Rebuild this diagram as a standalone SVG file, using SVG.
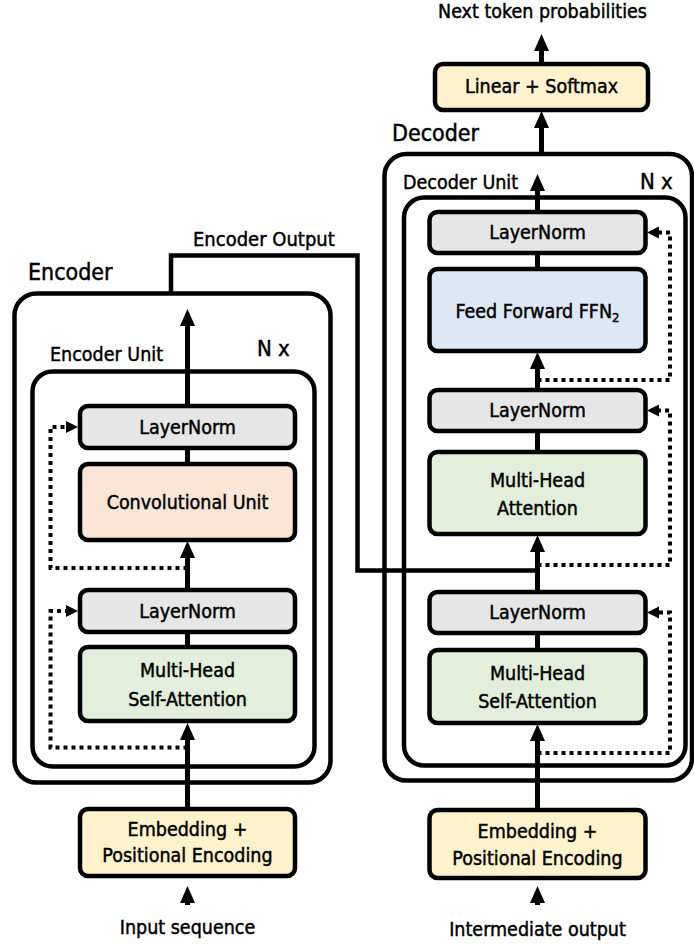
<svg xmlns="http://www.w3.org/2000/svg" width="694" height="945" viewBox="0 0 694 945">
<defs>
<style>
text{font-family:"DejaVu Sans Condensed","DejaVu Sans",sans-serif;font-stretch:condensed;font-size:19.5px;fill:#000;stroke:#000;stroke-width:0.45px}
.c{text-anchor:middle}
.t{font-size:23px}
.nx{font-size:22px}
.box{stroke:#000;stroke-width:4.5}
.cont{fill:none;stroke:#000;stroke-width:4.5}
.ln{fill:#e7e6e6}
.conv{fill:#fbe5d6}
.att{fill:#e2efda}
.emb{fill:#fff2cc}
.ffn{fill:#dce8f5}
.a{fill:none;stroke:#000;stroke-width:5}
.ar{marker-end:url(#arr)}
.d{fill:none;stroke:#000;stroke-width:4;stroke-dasharray:4 4;marker-end:url(#darr)}
.eo{fill:none;stroke:#000;stroke-width:4.5}
</style>
<marker id="arr" markerUnits="userSpaceOnUse" markerWidth="18" markerHeight="16" refX="10" refY="7.5" orient="auto" overflow="visible">
<path d="M0,0 L17,7.5 L0,15 Z" fill="#000"/>
</marker>
<marker id="darr" markerUnits="userSpaceOnUse" markerWidth="12" markerHeight="12" refX="8" refY="6" orient="auto" overflow="visible">
<path d="M0,0 L12,6 L0,12 Z" fill="#000"/>
</marker>
</defs>
<rect width="694" height="945" fill="#fff"/>

<g id="encoder">
<rect class="cont" x="14.5" y="293.5" width="316" height="489" rx="22"/>
<text class="t" x="28" y="280">Encoder</text>
</g>
<g id="encoder-unit">
<rect class="cont" x="32.5" y="371.5" width="282" height="395" rx="20"/>
<text x="50" y="361">Encoder Unit</text>
<text class="nx" x="257" y="356">N x</text>
</g>
<g id="decoder">
<rect class="cont" x="384.5" y="154" width="307.5" height="626.5" rx="22"/>
<text class="t" x="392" y="141">Decoder</text>
</g>
<g id="decoder-unit">
<rect class="cont" x="404" y="197.5" width="281.5" height="568" rx="20"/>
<text x="403" y="189">Decoder Unit</text>
<text class="nx" x="640" y="189">N x</text>
</g>

<g id="connectors">
<path class="eo" d="M171,293.5 V255.5 H357.5 V570.5 H537.5"/>
<path class="a ar" d="M187.5,905 V893"/>
<path class="a ar" d="M187.5,807 V730"/>
<path class="a" d="M187.5,646 V633"/>
<path class="a ar" d="M187.5,589 V548"/>
<path class="a" d="M187.5,463 V449"/>
<path class="a ar" d="M187.5,405 V316"/>
<path class="d" d="M187.5,568 H50.5 V427 H74"/>
<path class="d" d="M187.5,747.5 H50.5 V611 H74"/>
<path class="a ar" d="M537.5,905 V893"/>
<path class="a ar" d="M537.5,809 V731"/>
<path class="a" d="M537.5,649 V634"/>
<path class="a ar" d="M537.5,591 V542"/>
<path class="a" d="M537.5,451 V432"/>
<path class="a ar" d="M537.5,389 V359"/>
<path class="a" d="M537.5,268 V254"/>
<path class="a ar" d="M537.5,211 V181"/>
<path class="a ar" d="M541.5,152 V118"/>
<path class="a ar" d="M541.5,63 V41"/>
<path class="d" d="M537.5,380 H670 V232.5 H651"/>
<path class="d" d="M537.5,565 H670 V410.5 H651"/>
<path class="d" d="M537.5,753 H670 V612.5 H651"/>
</g>

<g id="enc-ln1"><rect class="box ln" x="80" y="406" width="215" height="42" rx="8"/><text class="c" x="187.5" y="434">LayerNorm</text></g>
<g id="enc-conv"><rect class="box conv" x="80" y="464" width="215" height="76" rx="8"/><text class="c" x="187.5" y="508.5">Convolutional Unit</text></g>
<g id="enc-ln2"><rect class="box ln" x="80" y="590" width="215" height="42" rx="8"/><text class="c" x="187.5" y="618">LayerNorm</text></g>
<g id="enc-mhsa"><rect class="box att" x="80" y="647" width="215" height="74" rx="8"/><text class="c" x="187.5" y="677">Multi-Head</text><text class="c" x="187.5" y="706">Self-Attention</text></g>
<g id="enc-emb"><rect class="box emb" x="80" y="809" width="215" height="67" rx="8"/><text class="c" x="187.5" y="836">Embedding +</text><text class="c" x="187.5" y="862">Positional Encoding</text></g>
<g id="input"><text class="c" x="187.5" y="934">Input sequence</text></g>

<g id="dec-ln1"><rect class="box ln" x="429.5" y="212" width="216" height="41" rx="8"/><text class="c" x="537.5" y="239">LayerNorm</text></g>
<g id="dec-ffn"><rect class="box ffn" x="429.5" y="269" width="216" height="82" rx="8"/><text class="c" x="537.5" y="318">Feed Forward FFN<tspan font-size="13" dy="4">2</tspan></text></g>
<g id="dec-ln2"><rect class="box ln" x="429.5" y="390" width="216" height="41" rx="8"/><text class="c" x="537.5" y="417">LayerNorm</text></g>
<g id="dec-mha"><rect class="box att" x="429.5" y="452" width="216" height="82" rx="8"/><text class="c" x="537.5" y="487">Multi-Head</text><text class="c" x="537.5" y="515">Attention</text></g>
<g id="dec-ln3"><rect class="box ln" x="429.5" y="592" width="216" height="41" rx="8"/><text class="c" x="537.5" y="619">LayerNorm</text></g>
<g id="dec-mhsa"><rect class="box att" x="429.5" y="650" width="216" height="73" rx="8"/><text class="c" x="537.5" y="680">Multi-Head</text><text class="c" x="537.5" y="708">Self-Attention</text></g>
<g id="dec-emb"><rect class="box emb" x="429.5" y="810" width="216" height="68" rx="8"/><text class="c" x="537.5" y="838">Embedding +</text><text class="c" x="537.5" y="865">Positional Encoding</text></g>
<g id="intermediate"><text class="c" x="537.5" y="936">Intermediate output</text></g>
<g id="linear"><rect class="box emb" x="435" y="64" width="213" height="46" rx="8"/><text class="c" x="541.5" y="93">Linear + Softmax</text></g>
<g id="next"><text class="c" x="542.5" y="18">Next token probabilities</text></g>
<g id="enc-out-label"><text x="193" y="246" style="font-size:20px">Encoder Output</text></g>
</svg>
